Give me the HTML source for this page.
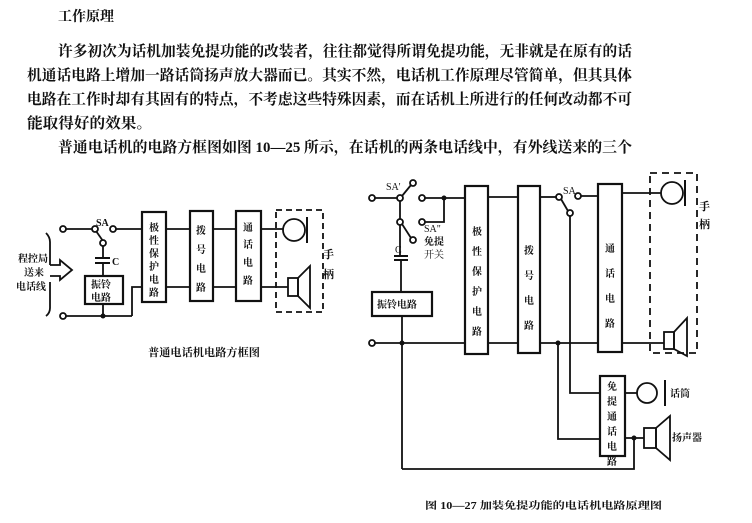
<!DOCTYPE html>
<html><head><meta charset="utf-8"><style>
html,body{margin:0;padding:0;background:#fff;}
svg{display:block;}
text{font-family:"Liberation Serif","Noto Serif CJK SC","Noto Sans CJK SC",serif;fill:#111;}
</style></head><body>
<svg width="752" height="523" viewBox="0 0 752 523" xmlns="http://www.w3.org/2000/svg">
<g>
<text x="58" y="21" font-size="14" font-weight="bold" font-family="Noto Sans CJK SC,sans-serif">工作原理</text>
<g font-weight="bold" font-family="Noto Serif CJK SC,serif">
<text x="58" y="56" font-size="15" textLength="574" lengthAdjust="spacingAndGlyphs">许多初次为话机加装免提功能的改装者，往往都觉得所谓免提功能，无非就是在原有的话</text>
<text x="27" y="80" font-size="15" textLength="605" lengthAdjust="spacingAndGlyphs">机通话电路上增加一路话筒扬声放大器而已。其实不然，电话机工作原理尽管简单，但其具体</text>
<text x="27" y="104" font-size="15" textLength="605" lengthAdjust="spacingAndGlyphs">电路在工作时却有其固有的特点，不考虑这些特殊因素，而在话机上所进行的任何改动都不可</text>
<text x="27" y="128" font-size="15" textLength="125" lengthAdjust="spacingAndGlyphs">能取得好的效果。</text>
<text x="58" y="152" font-size="15" textLength="574" lengthAdjust="spacingAndGlyphs">普通电话机的电路方框图如图 10—25 所示，在话机的两条电话线中，有外线送来的三个</text>
</g>
</g>

<!-- LEFT DIAGRAM -->
<g stroke="#111" stroke-width="1.8" fill="none">
<line x1="66" y1="229" x2="92" y2="229"/>
<circle cx="63" cy="229" r="3" fill="#fff"/>
<circle cx="95" cy="229" r="3" fill="#fff"/>
<circle cx="113" cy="229" r="3" fill="#fff"/>
<line x1="116" y1="229" x2="142" y2="229"/>
<line x1="96" y1="231" x2="103" y2="241"/>
<circle cx="103" cy="243" r="3" fill="#fff"/>
<line x1="103" y1="246" x2="103" y2="258"/>
<line x1="95" y1="258" x2="110" y2="258" stroke-width="2"/>
<line x1="95" y1="263" x2="110" y2="263" stroke-width="2"/>
<line x1="103" y1="263" x2="103" y2="276"/>
<rect x="85" y="276" width="38" height="28" stroke-width="2.2"/>
<line x1="103" y1="304" x2="103" y2="316"/>
<line x1="66" y1="316" x2="132" y2="316"/>
<circle cx="63" cy="316" r="3" fill="#fff"/>
<polyline points="132,316 132,287 142,287"/>
<rect x="142" y="212" width="24" height="90" stroke-width="2.2"/>
<rect x="190" y="211" width="23" height="90" stroke-width="2.2"/>
<rect x="236" y="211" width="25" height="90" stroke-width="2.2"/>
<line x1="166" y1="229" x2="190" y2="229"/>
<line x1="213" y1="229" x2="236" y2="229"/>
<line x1="261" y1="229" x2="283" y2="229"/>
<line x1="166" y1="287" x2="190" y2="287"/>
<line x1="213" y1="287" x2="236" y2="287"/>
<line x1="261" y1="287" x2="288" y2="287"/>
<rect x="276" y="210" width="47" height="102" stroke-dasharray="6,4"/>
<circle cx="294" cy="230" r="11"/>
<line x1="307" y1="217" x2="307" y2="243" stroke-width="2"/>
<rect x="288" y="278" width="10" height="18"/>
<polygon points="298,278 310,266 310,308 298,296"/>
<path d="M46,233 Q50,237 50,242 L50,265"/>
<path d="M50,282 L50,308 Q50,313 46,316"/>
<polyline points="50,265 60,265 60,260 72,270 60,280 60,276 50,276" fill="#fff"/>
</g>
<circle cx="103" cy="316" r="2.5" fill="#111"/>
<g font-size="10" font-weight="bold">
<text x="96" y="226">SA</text>
<text x="112" y="265">C</text>
<text x="18" y="262">程控局</text>
<text x="24" y="276">送来</text>
<text x="16" y="290">电话线</text>
<text x="91" y="288">振铃</text>
<text x="91" y="301">电路</text>
<text x="149" y="231">极</text><text x="149" y="244">性</text><text x="149" y="257">保</text><text x="149" y="270">护</text><text x="149" y="283">电</text><text x="149" y="296">路</text>
<text x="196" y="234">拨</text><text x="196" y="253">号</text><text x="196" y="272">电</text><text x="196" y="291">路</text>
<text x="243" y="231">通</text><text x="243" y="248">话</text><text x="243" y="266">电</text><text x="243" y="284">路</text>
<text x="323" y="258" font-size="11">手</text><text x="323" y="278" font-size="11">柄</text>
<text x="148" y="356" font-size="11" textLength="112" lengthAdjust="spacingAndGlyphs">普通电话机电路方框图</text>
</g>

<!-- RIGHT DIAGRAM -->
<g stroke="#111" stroke-width="1.8" fill="none">
<line x1="375" y1="198" x2="397" y2="198"/>
<circle cx="372" cy="198" r="3" fill="#fff"/>
<circle cx="400" cy="198" r="3" fill="#fff"/>
<line x1="402" y1="196" x2="411" y2="185"/>
<circle cx="413" cy="183" r="3" fill="#fff"/>
<circle cx="422" cy="198" r="3" fill="#fff"/>
<line x1="425" y1="198" x2="465" y2="198"/>
<polyline points="444,198 444,222 425,222"/>
<circle cx="422" cy="222" r="3" fill="#fff"/>
<line x1="400" y1="201" x2="400" y2="219"/>
<circle cx="400" cy="222" r="3" fill="#fff"/>
<line x1="402" y1="224" x2="411" y2="238"/>
<circle cx="413" cy="240" r="3" fill="#fff"/>
<line x1="400" y1="225" x2="400" y2="256"/>
<line x1="394" y1="256" x2="408" y2="256" stroke-width="2"/>
<line x1="394" y1="260" x2="408" y2="260" stroke-width="2"/>
<line x1="401" y1="260" x2="401" y2="292"/>
<rect x="372" y="292" width="60" height="24" stroke-width="2.2"/>
<line x1="402" y1="316" x2="402" y2="469"/>
<line x1="375" y1="343" x2="465" y2="343"/>
<circle cx="372" cy="343" r="3" fill="#fff"/>
<rect x="465" y="186" width="23" height="168" stroke-width="2.2"/>
<rect x="518" y="186" width="22" height="167" stroke-width="2.2"/>
<rect x="598" y="184" width="24" height="168" stroke-width="2.2"/>
<line x1="488" y1="197" x2="518" y2="197"/>
<line x1="488" y1="343" x2="518" y2="343"/>
<line x1="540" y1="343" x2="598" y2="343"/>
<line x1="540" y1="197" x2="556" y2="197"/>
<circle cx="559" cy="197" r="3" fill="#fff"/>
<circle cx="578" cy="196" r="3" fill="#fff"/>
<line x1="581" y1="196" x2="598" y2="196"/>
<line x1="561" y1="199" x2="568" y2="211"/>
<circle cx="570" cy="213" r="3" fill="#fff"/>
<polyline points="570,216 570,393 600,393"/>
<polyline points="558,343 558,439 600,439"/>
<rect x="600" y="376" width="25" height="80" stroke-width="2.2"/>
<line x1="625" y1="393" x2="637" y2="393"/>
<circle cx="647" cy="393" r="10"/>
<line x1="665" y1="380" x2="665" y2="406" stroke-width="2"/>
<line x1="625" y1="438" x2="644" y2="438"/>
<rect x="644" y="428" width="12" height="20"/>
<polygon points="656,428 670,416 670,460 656,448"/>
<polyline points="402,469 634,469 634,438"/>
<line x1="622" y1="193" x2="661" y2="193"/>
<line x1="622" y1="343" x2="664" y2="343"/>
<rect x="650" y="173" width="47" height="180" stroke-dasharray="7,5"/>
<circle cx="672" cy="193" r="11"/>
<line x1="685" y1="180" x2="685" y2="206" stroke-width="2"/>
<rect x="664" y="332" width="10" height="17"/>
<polygon points="674,332 687,318 687,356 674,349"/>
</g>
<g fill="#111">
<circle cx="444" cy="198" r="2.5"/>
<circle cx="402" cy="343" r="2.5"/>
<circle cx="558" cy="343" r="2.5"/>
<circle cx="634" cy="438" r="2.5"/>
</g>
<g font-size="10" font-weight="bold">
<text x="386" y="190" font-weight="normal">SA'</text>
<text x="424" y="232" font-weight="normal">SA"</text>
<text x="424" y="245">免提</text>
<text x="424" y="258" fill="#445" font-weight="normal">开关</text>
<text x="395" y="253" fill="#445" font-weight="normal">C</text>
<text x="377" y="308">振铃电路</text>
<text x="563" y="194" font-weight="normal">SA</text>
<text x="472" y="235">极</text><text x="472" y="255">性</text><text x="472" y="275">保</text><text x="472" y="295">护</text><text x="472" y="315">电</text><text x="472" y="335">路</text>
<text x="524" y="254">拨</text><text x="524" y="279">号</text><text x="524" y="304">电</text><text x="524" y="329">路</text>
<text x="605" y="252">通</text><text x="605" y="277">话</text><text x="605" y="302">电</text><text x="605" y="327">路</text>
<text x="607" y="390">免</text><text x="607" y="405">提</text><text x="607" y="420">通</text><text x="607" y="435">话</text><text x="607" y="450">电</text><text x="607" y="465">路</text>
<text x="670" y="397">话筒</text>
<text x="672" y="441">扬声器</text>
<text x="699" y="210" font-size="11">手</text><text x="699" y="228" font-size="11">柄</text>
<text x="425" y="509" font-size="10" textLength="237" lengthAdjust="spacingAndGlyphs">图 10—27   加装免提功能的电话机电路原理图</text>
</g>
</svg>
</body></html>
